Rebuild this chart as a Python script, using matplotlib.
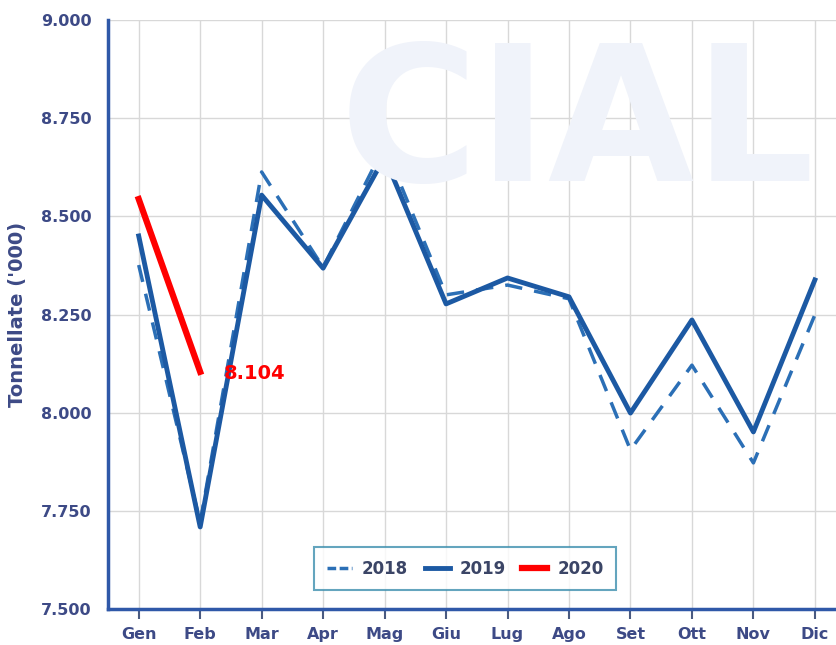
import matplotlib
matplotlib.use('Agg')
import matplotlib.pyplot as plt
from matplotlib.ticker import FuncFormatter
from matplotlib.lines import Line2D

# monthly volumes, thousands of tonnes
mesi = ['Gen', 'Feb', 'Mar', 'Apr', 'Mag', 'Giu', 'Lug', 'Ago', 'Set', 'Ott', 'Nov', 'Dic']
anno_2018 = [8.376, 7.72, 8.613, 8.37, 8.68, 8.30, 8.325, 8.29, 7.905, 8.121, 7.872, 8.249]
anno_2019 = [8.45, 7.709, 8.554, 8.368, 8.651, 8.277, 8.343, 8.295, 7.999, 8.236, 7.951, 8.338]
anno_2020 = [8.544, 8.104]

blu = '#1c59a3'
blu_chiaro = '#2b6fb6'
rosso = '#ff0000'
testo = '#3d4a86'

fig = plt.figure(figsize=(8.37, 6.45), dpi=100)
ax = fig.add_axes([0.129, 0.0558, 0.871, 0.9132])

x = list(range(len(mesi)))

# faint watermark and title at the top edge
fig.text(0.69, 0.80, 'CIAL', fontsize=136, fontweight='bold', color='#f0f3fa',
         ha='center', va='center', zorder=0)
fig.text(0.61, 1.012, 'Consumi mensili di alluminio', fontsize=12, color='#b8bfd4',
         ha='center', va='center')

ax.plot(x, anno_2018, color=blu_chiaro, lw=2.5, ls=(0, (5, 3.5)), label='2018', zorder=3)
ax.plot(x, anno_2019, color=blu, lw=3.5, label='2019', zorder=4)
ax.plot(x[:len(anno_2020)], anno_2020, color=rosso, lw=4.5, label='2020', zorder=5)

ax.annotate('{:.3f}'.format(anno_2020[-1]), xy=(1, anno_2020[-1]), xytext=(17, -1),
            textcoords='offset points', color=rosso, fontsize=14, fontweight='bold',
            va='center', ha='left', zorder=6)

ax.set_xlim(-0.5, 11.36)
ax.set_ylim(7.5, 9.0)
ax.set_xticks(x)
ax.set_xticklabels(mesi)
ax.set_yticks([7.5, 7.75, 8.0, 8.25, 8.5, 8.75, 9.0])
ax.yaxis.set_major_formatter(FuncFormatter(lambda v, p: '{:.3f}'.format(v)))

ax.grid(True, color='#d8d8d8', lw=1)
ax.set_axisbelow(True)
ax.patch.set_alpha(0)

for s in ['top', 'right']:
    ax.spines[s].set_visible(False)
for s in ['left', 'bottom']:
    ax.spines[s].set_color('#2f58a8')
    ax.spines[s].set_linewidth(2.5)

ax.tick_params(axis='x', colors='#4a5a80', length=7, width=1.5, pad=6, labelsize=11.5)
ax.tick_params(axis='y', length=0, pad=12, labelsize=11.5)
for lab in ax.get_xticklabels() + ax.get_yticklabels():
    lab.set_color(testo)
    lab.set_fontweight('bold')

ax.set_ylabel("Tonnellate ('000)", fontsize=14, color=testo, labelpad=10, fontweight='bold')

handles = [Line2D([0], [0], color=blu_chiaro, lw=2.5, ls=(0, (2.5, 1))),
           Line2D([0], [0], color=blu, lw=3.5),
           Line2D([0], [0], color=rosso, lw=4.5)]
leg = ax.legend(handles, ['2018', '2019', '2020'], loc='lower center', ncol=3,
                bbox_to_anchor=(0.49, 0.032), borderaxespad=0, frameon=True, fancybox=False,
                handlelength=1.5, handletextpad=0.6, columnspacing=1.0, fontsize=12,
                borderpad=0.75)
leg.get_frame().set_edgecolor('#3d8fae')
leg.get_frame().set_linewidth(1.5)
for t in leg.get_texts():
    t.set_color('#3b4566')
    t.set_fontweight('bold')

fig.savefig('out.png', dpi=100)
